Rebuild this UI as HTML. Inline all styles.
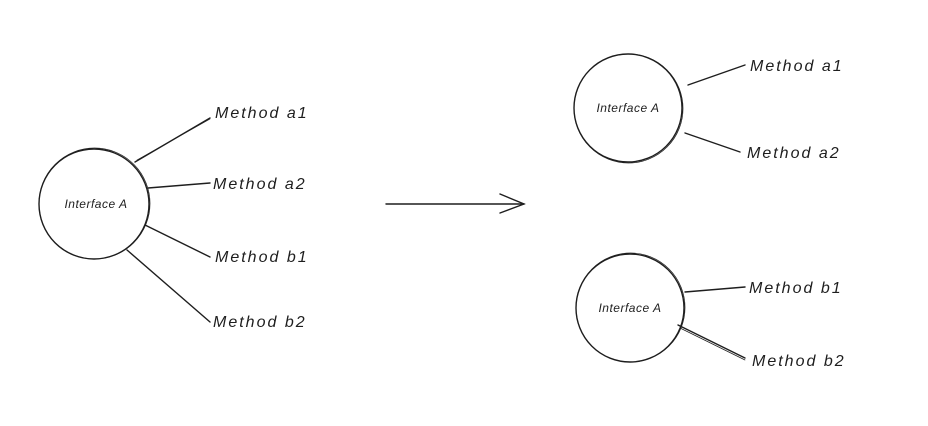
<!DOCTYPE html>
<html><head><meta charset="utf-8"><style>
html,body{margin:0;padding:0;background:#fff;}
svg{display:block}
text{font-family:"Liberation Sans",sans-serif;font-style:italic;fill:#1e1e1e}
</style></head><body>
<svg width="928" height="426" viewBox="0 0 928 426" xmlns="http://www.w3.org/2000/svg">
<rect width="928" height="426" fill="#fff"/>
<g fill="none" stroke="#1e1e1e" stroke-width="1.4" stroke-linecap="round">
<circle cx="94" cy="204" r="55"/>
<circle cx="94.5" cy="203.5" r="55.5" stroke-width="0.7"/>
<line x1="135" y1="162" x2="210" y2="118"/>
<line x1="137" y1="160" x2="210" y2="119" stroke-width="0.7"/>
<line x1="148" y1="188" x2="210" y2="183"/>
<line x1="145" y1="225" x2="210" y2="257"/>
<line x1="127" y1="250" x2="210" y2="322"/>
<line x1="386" y1="204" x2="524" y2="204"/>
<polyline points="500,194 524,204 500,213"/>
<circle cx="628" cy="108" r="54"/>
<circle cx="628.5" cy="108.5" r="54.5" stroke-width="0.7"/>
<line x1="688" y1="85" x2="745" y2="65"/>
<line x1="685" y1="133" x2="740" y2="152"/>
<circle cx="630" cy="308" r="54"/>
<circle cx="630.5" cy="307.5" r="54.5" stroke-width="0.7"/>
<line x1="685" y1="292" x2="745" y2="287"/>
<line x1="678" y1="325" x2="745" y2="358"/>
<line x1="680" y1="328" x2="745" y2="360" stroke-width="0.7"/>
</g>
<g font-size="12" text-anchor="middle" letter-spacing="0.5">
<text x="96" y="208">Interface A</text>
<text x="628" y="112">Interface A</text>
<text x="630" y="312">Interface A</text>
</g>
<g font-size="16" letter-spacing="2">
<text x="215" y="118">Method a1</text>
<text x="213" y="189">Method a2</text>
<text x="215" y="262">Method b1</text>
<text x="213" y="327">Method b2</text>
<text x="750" y="71">Method a1</text>
<text x="747" y="158">Method a2</text>
<text x="749" y="293">Method b1</text>
<text x="752" y="366">Method b2</text>
</g>
</svg>
</body></html>
